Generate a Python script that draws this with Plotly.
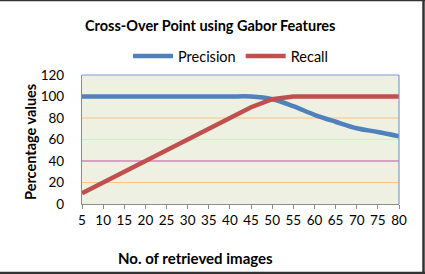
import plotly.graph_objects as go

retrieved = [5, 10, 15, 20, 25, 30, 35, 40, 45, 50, 55, 60, 65, 70, 75, 80]
precision = [100, 100, 100, 100, 100, 100, 100, 100, 100, 97.5, 91, 83, 76.5, 70.5, 67, 63]
recall = [10, 20, 30, 40, 50, 60, 70, 80, 90, 97.5, 100, 100, 100, 100, 100, 100]
y_ticks = [0, 20, 40, 60, 80, 100, 120]
grid_levels = [20, 40, 60, 80]
grid_colors = ["#f7c48e", "#c8509a", "#f6dcc8", "#f7c48e"]

W, H = 425, 274
L, R, T, B = 82, 26, 75, 70
pw, ph = W - L - R, H - T - B

def px_x(p):
    return (p - L) / pw

def px_y(p):
    return (H - B - p) / ph

fig = go.Figure()
fig.add_trace(go.Scatter(x=retrieved, y=precision, mode="lines", name="Precision",
                         line=dict(color="#4f81bd", width=4.5), line_shape="spline"))
fig.add_trace(go.Scatter(x=retrieved, y=recall, mode="lines", name="Recall",
                         line=dict(color="#c0504d", width=4.5)))

shapes = []
for lv, c in zip(grid_levels, grid_colors):
    shapes.append(dict(type="line", xref="paper", yref="y", x0=0, x1=1, y0=lv, y1=lv,
                       line=dict(color=c, width=1.2), layer="below"))
# plot border top/right
shapes.append(dict(type="line", xref="paper", yref="paper", x0=0, x1=1, y0=1, y1=1,
                   line=dict(color="#7f9ccc", width=1.2)))
shapes.append(dict(type="line", xref="paper", yref="paper", x0=1, x1=1, y0=0, y1=1,
                   line=dict(color="#7f9ccc", width=1.2)))
# outer dark frame (top, right, bottom)
shapes.append(dict(type="line", xref="paper", yref="paper", x0=px_x(0), x1=px_x(W), y0=px_y(0.5), y1=px_y(0.5),
                   line=dict(color="#333333", width=1.5)))
shapes.append(dict(type="line", xref="paper", yref="paper", x0=px_x(423.5), x1=px_x(423.5), y0=px_y(0), y1=px_y(H),
                   line=dict(color="#333333", width=2.5)))
shapes.append(dict(type="line", xref="paper", yref="paper", x0=px_x(0), x1=px_x(W), y0=px_y(273), y1=px_y(273),
                   line=dict(color="#333333", width=2.5)))

font = "Lato, Open Sans, sans-serif"
annotations = [
    dict(text="<b>Cross-Over Point using Gabor Features</b>", xref="paper", yref="paper",
         x=px_x(210), y=px_y(25), showarrow=False, font=dict(size=14.5, color="#000", family=font),
         xanchor="center", yanchor="middle"),
    dict(text="<b>No. of retrieved images</b>", xref="paper", yref="paper",
         x=px_x(195), y=px_y(258), showarrow=False, font=dict(size=15, color="#000", family=font),
         xanchor="center", yanchor="middle"),
    dict(text="<b>Percentage values</b>", xref="paper", yref="paper", textangle=-90,
         x=px_x(30), y=px_y(142), showarrow=False, font=dict(size=14.5, color="#000", family=font),
         xanchor="center", yanchor="middle"),
]

fig.update_layout(
    width=W, height=H,
    margin=dict(l=L, r=R, t=T, b=B),
    paper_bgcolor="white",
    plot_bgcolor="#eef1e1",
    font=dict(family=font, size=13, color="#000"),
    showlegend=True,
    legend=dict(orientation="h", x=px_x(128), y=px_y(56), xanchor="left", yanchor="middle",
                font=dict(size=14.5, family=font, color="#000"), bgcolor="rgba(0,0,0,0)",
                itemwidth=40, tracegroupgap=0),
    shapes=shapes,
    annotations=annotations,
    xaxis=dict(range=[5, 80], tickmode="array", tickvals=retrieved, ticktext=[str(v) for v in retrieved],
               showgrid=False, zeroline=False, showline=True, linecolor="#8c8c8c", linewidth=1.2,
               ticks="outside", ticklen=4, tickcolor="#8c8c8c", tickfont=dict(size=13.5)),
    yaxis=dict(range=[0, 120], tickvals=y_ticks, showgrid=False, zeroline=False,
               showline=True, linecolor="#8c8c8c", linewidth=1.2, ticks="", ticklabelstandoff=14,
               tickfont=dict(size=13.5)),
)

fig.write_html("out.html")
